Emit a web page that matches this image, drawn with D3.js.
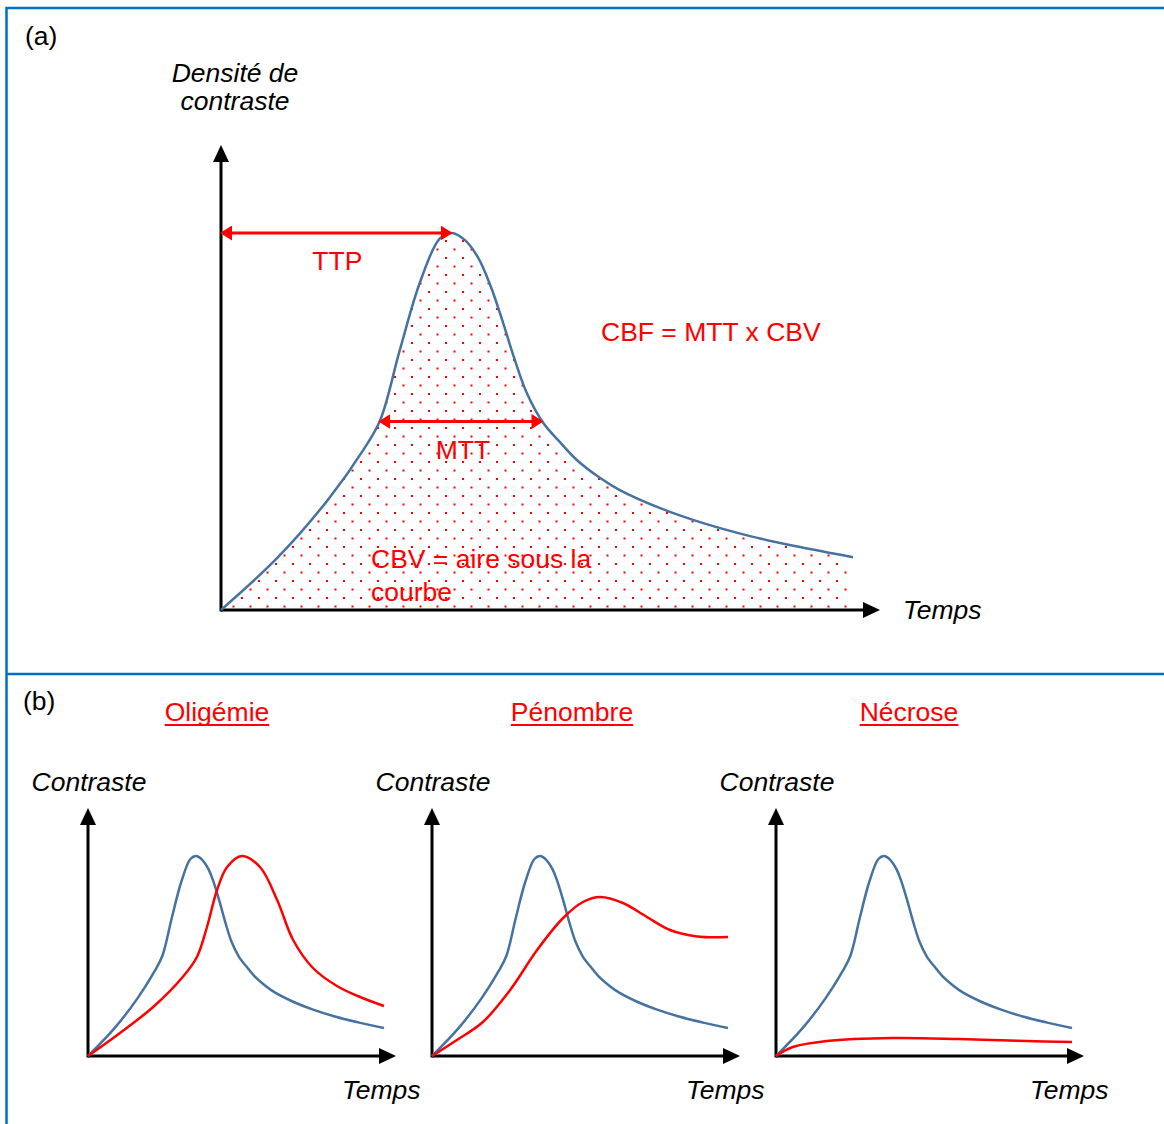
<!DOCTYPE html>
<html>
<head>
<meta charset="utf-8">
<script src="https://cdn.jsdelivr.net/npm/d3@7"></script>
<style>
body{margin:0;background:#fff;}
svg text{font-family:"Liberation Sans",Arial,sans-serif;}
</style>
</head>
<body>
<div id="canvas"></div>
<script>
// normal curve (blue), time in arbitrary units 0-10, contrast normalised to peak = 1
var normalTime     = [0, 0.89, 1.69, 2.25, 2.52, 2.83, 3.15, 3.46, 3.65, 3.86, 4.07, 4.26, 4.45, 4.64, 4.84, 5.10, 5.36, 5.63, 6.0, 6.31, 6.95, 7.58, 8.37, 9.16, 10];
var normalContrast = [0, 0.138, 0.292, 0.424, 0.504, 0.69, 0.87, 0.985, 1.0, 0.981, 0.934, 0.862, 0.769, 0.668, 0.575, 0.496, 0.446, 0.398, 0.35, 0.318, 0.27, 0.233, 0.196, 0.167, 0.14];

// pathological curves (red)
var oligemieTime     = [0, 1.08, 2.2, 3.2, 3.68, 4.02, 4.36, 4.7, 5.2, 5.81, 6.39, 6.93, 7.6, 8.41, 9.19, 10];
var oligemieContrast = [0, 0.115, 0.245, 0.395, 0.495, 0.645, 0.83, 0.945, 1.0, 0.945, 0.78, 0.58, 0.44, 0.35, 0.295, 0.25];

var penombreTime     = [0, 0.84, 1.72, 2.64, 3.55, 4.43, 5.1, 5.68, 6.45, 7.26, 8.04, 8.95, 10];
var penombreContrast = [0, 0.08, 0.17, 0.33, 0.53, 0.69, 0.77, 0.795, 0.765, 0.695, 0.63, 0.598, 0.595];

var necroseTime     = [0, 0.57, 1.72, 3.95, 6.2, 8.47, 10];
var necroseContrast = [0, 0.045, 0.075, 0.09, 0.085, 0.075, 0.07];

var panelTitles = ['Oligémie', 'Pénombre', 'Nécrose'];

var blue = '#4672a0', red = '#ff0000', frame = '#0070c0';
var W = 1164, H = 1124, fs = 26.5;

var svg = d3.select('#canvas').append('svg')
    .attr('width', W).attr('height', H);

var defs = svg.append('defs');
defs.append('marker').attr('id', 'headBlack')
    .attr('markerUnits', 'userSpaceOnUse')
    .attr('markerWidth', 17).attr('markerHeight', 16)
    .attr('refX', 7).attr('refY', 8)
    .attr('orient', 'auto')
    .append('path').attr('d', 'M0,0L17,8L0,16Z').attr('fill', '#000');
defs.append('marker').attr('id', 'headRed')
    .attr('markerUnits', 'userSpaceOnUse')
    .attr('markerWidth', 12).attr('markerHeight', 15)
    .attr('refX', 6).attr('refY', 7.5)
    .attr('orient', 'auto-start-reverse')
    .append('path').attr('d', 'M0,0L12,7.5L0,15Z').attr('fill', red);

var pat = defs.append('pattern').attr('id', 'dots')
    .attr('patternUnits', 'userSpaceOnUse')
    .attr('width', 17).attr('height', 17)
    .attr('x', 3).attr('y', 2);
pat.append('rect').attr('x', 0).attr('y', 0).attr('width', 2).attr('height', 2).attr('fill', red);
pat.append('rect').attr('x', 8.5).attr('y', 8.5).attr('width', 2).attr('height', 2).attr('fill', red);

// frame
svg.append('path')
    .attr('d', 'M' + W + ',8H6.5V' + H + 'M6.5,674H' + W)
    .attr('fill', 'none').attr('stroke', frame).attr('stroke-width', 2.5);

function zip(t, v){
    return t.map(function(d, i){ return {t: d, v: v[i]}; });
}

// times where the curve crosses a level (linear between points)
function crossings(rows, level){
    var out = [];
    for (var i = 1; i < rows.length; i++){
        var a = rows[i-1], b = rows[i];
        if ((a.v - level) * (b.v - level) < 0){
            out.push(a.t + (level - a.v) / (b.v - a.v) * (b.t - a.t));
        }
    }
    return out;
}

function drawAxes(g, x0, y0, xEnd, yEnd){
    g.append('line')
        .attr('x1', x0).attr('y1', y0).attr('x2', xEnd - 10).attr('y2', y0)
        .attr('stroke', '#000').attr('stroke-width', 3)
        .attr('marker-end', 'url(#headBlack)');
    g.append('line')
        .attr('x1', x0).attr('y1', y0 + 1.5).attr('x2', x0).attr('y2', yEnd + 10)
        .attr('stroke', '#000').attr('stroke-width', 3)
        .attr('marker-end', 'url(#headBlack)');
}

function redArrow(g, x1, x2, y){
    g.append('line')
        .attr('x1', x1 + 5).attr('x2', x2 - 5).attr('y1', y).attr('y2', y)
        .attr('stroke', red).attr('stroke-width', 3)
        .attr('marker-start', 'url(#headRed)')
        .attr('marker-end', 'url(#headRed)');
}

var smooth = d3.curveCatmullRom.alpha(0.5);

//--------- panel (a)
var normal = zip(normalTime, normalContrast);
var xA = d3.scaleLinear().domain([0, 10]).range([221, 853]);
var yA = d3.scaleLinear().domain([0, 1]).range([610, 233]);
var gA = svg.append('g');

var areaA = d3.area().curve(smooth)
    .x(function(d){ return xA(d.t); })
    .y0(yA(0)).y1(function(d){ return yA(d.v); });
var lineA = d3.line().curve(smooth)
    .x(function(d){ return xA(d.t); })
    .y(function(d){ return yA(d.v); });

gA.append('path').datum(normal).attr('d', areaA).attr('fill', 'url(#dots)');
drawAxes(gA, xA(0), yA(0), 880, 145);
gA.append('path').datum(normal).attr('d', lineA)
    .attr('fill', 'none').attr('stroke', blue).attr('stroke-width', 2.5);

var peak = normal.reduce(function(a, b){ return b.v > a.v ? b : a; });
redArrow(gA, xA(0), xA(peak.t), yA(peak.v));
gA.append('text').attr('x', (xA(0) + xA(peak.t)) / 2 + 1).attr('y', 270)
    .attr('text-anchor', 'middle').attr('font-size', fs).attr('fill', red).text('TTP');

var half = crossings(normal, peak.v / 2);
redArrow(gA, xA(half[0]), xA(half[1]), yA(peak.v / 2));
gA.append('text').attr('x', (xA(half[0]) + xA(half[1])) / 2 + 2).attr('y', 459)
    .attr('text-anchor', 'middle').attr('font-size', fs).attr('fill', red).text('MTT');

gA.append('text').attr('x', 601).attr('y', 341)
    .attr('font-size', fs).attr('fill', red).text('CBF = MTT x CBV');
gA.append('text').attr('x', 371).attr('y', 568)
    .attr('font-size', fs).attr('fill', red).text('CBV = aire sous la');
gA.append('text').attr('x', 371).attr('y', 601)
    .attr('font-size', fs).attr('fill', red).text('courbe');

gA.append('text').attr('x', 25).attr('y', 45).attr('font-size', fs).text('(a)');
gA.append('text').attr('x', 235).attr('y', 82).attr('text-anchor', 'middle')
    .attr('font-size', fs).attr('font-style', 'italic').text('Densité de');
gA.append('text').attr('x', 235).attr('y', 110).attr('text-anchor', 'middle')
    .attr('font-size', fs).attr('font-style', 'italic').text('contraste');
gA.append('text').attr('x', 903).attr('y', 619)
    .attr('font-size', fs).attr('font-style', 'italic').text('Temps');

//--------- panel (b)
svg.append('text').attr('x', 23).attr('y', 710).attr('font-size', fs).text('(b)');

var redSeries = [
    zip(oligemieTime, oligemieContrast),
    zip(penombreTime, penombreContrast),
    zip(necroseTime, necroseContrast)
];
var titleX = [217, 572, 909];

panelTitles.forEach(function(title, i){
    var ox = 88 + 344 * i, oy = 1056;
    var x = d3.scaleLinear().domain([0, 10]).range([ox, ox + 296]);
    var y = d3.scaleLinear().domain([0, 1]).range([oy, oy - 200]);
    var line = d3.line().curve(smooth)
        .x(function(d){ return x(d.t); })
        .y(function(d){ return y(d.v); });
    var g = svg.append('g').attr('class', 'sub');

    var tt = g.append('text').attr('x', titleX[i]).attr('y', 721)
        .attr('text-anchor', 'middle').attr('font-size', fs).attr('fill', red).text(title);
    var bb = tt.node().getBBox();
    g.append('line').attr('x1', bb.x).attr('x2', bb.x + bb.width)
        .attr('y1', 725).attr('y2', 725).attr('stroke', red).attr('stroke-width', 2);

    g.append('text').attr('x', ox + 1).attr('y', 791).attr('text-anchor', 'middle')
        .attr('font-size', fs).attr('font-style', 'italic').text('Contraste');
    g.append('text').attr('x', ox + 254).attr('y', 1099)
        .attr('font-size', fs).attr('font-style', 'italic').text('Temps');

    drawAxes(g, x(0), y(0), ox + 308, 808);

    g.append('path').datum(normal).attr('d', line)
        .attr('fill', 'none').attr('stroke', blue).attr('stroke-width', 2.5);
    g.append('path').datum(redSeries[i]).attr('d', line)
        .attr('fill', 'none').attr('stroke', red).attr('stroke-width', 2.5);
});
</script>
</body>
</html>
